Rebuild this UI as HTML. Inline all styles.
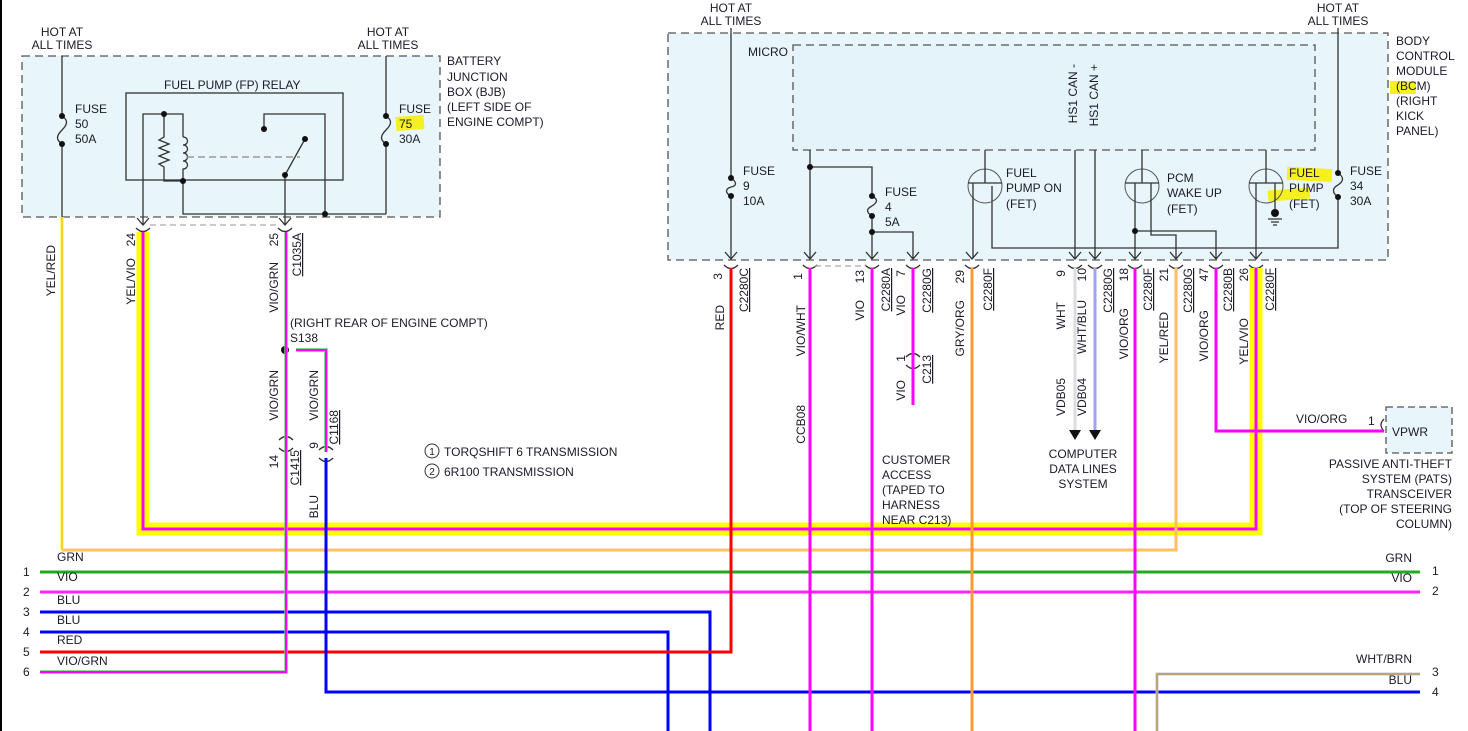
<!DOCTYPE html>
<html><head><meta charset="utf-8"><style>
html,body{margin:0;padding:0;background:#fff;}
svg{display:block;font-family:"Liberation Sans",sans-serif;font-size:12px;}
text{fill:#1a1a2a;}
</style></head><body>
<svg width="1468" height="731" viewBox="0 0 1468 731" xmlns="http://www.w3.org/2000/svg">
<rect x="0" y="0" width="2" height="731" fill="#000"/>
<rect x="22" y="56" width="418" height="161" fill="#e8f5fb" stroke="#555" stroke-dasharray="8,5" stroke-width="1.3"/>
<rect x="668" y="33" width="720" height="227" fill="#e8f5fb" stroke="#555" stroke-dasharray="8,5" stroke-width="1.3"/>
<rect x="793" y="45" width="522" height="105" fill="#e4f2fa" stroke="#555" stroke-dasharray="8,5" stroke-width="1.3"/>
<rect x="1386" y="407" width="66" height="46" fill="#e8f5fb" stroke="#555" stroke-dasharray="7,4" stroke-width="1.3"/>

<rect x="396" y="116" width="28" height="14" fill="#f6f020" transform="rotate(-4 410 123)"/>
<rect x="1390" y="81" width="26" height="13" fill="#f6f020"/>
<rect x="1287" y="168" width="45" height="13" fill="#f6f020" transform="rotate(3 1310 174)"/>
<rect x="1268" y="189" width="42" height="11" fill="#f6f020" transform="rotate(-4 1290 194)"/>

<g fill="none" stroke="#333" stroke-width="1.3">
<path d="M62 56 V116 M62 144 V217"/>
<path d="M62 116 c6 4 6 8 0 14 c-6 6 -6 10 0 14"/>
<path d="M386 56 V116 M386 144 V214"/>
<path d="M386 116 c6 4 6 8 0 14 c-6 6 -6 10 0 14"/>
<rect x="126" y="93" width="217" height="87"/>
<path d="M143 225 V114 H183 V137"/>
<path d="M164 114 V137 l-5 3 l10 4 l-10 4 l10 4 l-10 4 l10 4 l-10 4 l5 3 V181 H183"/>
<path d="M183 137 c6 0 6 8 0 8 c6 0 6 8 0 8 c6 0 6 8 0 8 c6 0 6 8 0 8 V214 H386"/>
<path d="M187 157 H300" stroke="#888" stroke-dasharray="7,4"/>
<path d="M325 214 V114 H264 V129"/>
<path d="M305 139 L285 175 V225"/>
<path d="M137 218 l6 7 l6 -7 M279 218 l6 7 l6 -7"/>
<path d="M150 225 H280" stroke="#aaa" stroke-dasharray="6,4"/>
<path d="M731 28 V178 M731 196 V258"/>
<path d="M731 178 c6 4 6 8 0 9 c-6 2 -6 6 0 9"/>
<path d="M1338 28 V173 M1338 197 V248 H992 V186"/>
<path d="M1338 173 c6 4 6 8 0 12 c-6 3 -6 8 0 12"/>
<path d="M810 150 V258 M810 167 H872 V196 M872 216 V258 M872 232 H913 V258"/>
<path d="M872 196 c6 3 6 6 0 10 c-6 3 -6 6 0 10"/>
<circle cx="985" cy="186" r="17" stroke="#555" stroke-width="1"/>
<path d="M985 150 V183 M968 183 H1002 M973 183 V258"/>
<path d="M1075 150 V258 M1095 150 V258"/>
<circle cx="1142" cy="186" r="17" stroke="#555" stroke-width="1"/>
<path d="M1142 150 V183 M1125 183 H1159 M1135 183 V258 M1151 183 V235 H1176 V258 M1135 231 H1216 V258"/>
<circle cx="1266" cy="186" r="17" stroke="#555" stroke-width="1"/>
<path d="M1266 150 V183 M1249 183 H1283 M1256 183 V258 M1275 183 V210"/>
<path d="M1268 219 H1282 M1271 222 H1279 M1273 225 H1277"/>
<path d="M725 252 l6 7 l6 -7 M804 252 l6 7 l6 -7 M866 252 l6 7 l6 -7 M907 252 l6 7 l6 -7 M966 252 l6 7 l6 -7 M1069 252 l6 7 l6 -7 M1089 252 l6 7 l6 -7 M1129 252 l6 7 l6 -7 M1170 252 l6 7 l6 -7 M1210 252 l6 7 l6 -7 M1250 252 l6 7 l6 -7"/>
<path d="M724 265 q7 7 14 0 M803 265 q7 7 14 0 M865 265 q7 7 14 0 M906 265 q7 7 14 0 M965 265 q7 7 14 0 M1068 265 q7 7 14 0 M1088 265 q7 7 14 0 M1128 265 q7 7 14 0 M1169 265 q7 7 14 0 M1209 265 q7 7 14 0 M1249 265 q7 7 14 0 M136 228 q7 7 14 0 M278 228 q7 7 14 0"/>
<path d="M815 266 H866" stroke="#aaa" stroke-dasharray="6,4"/>
<path d="M906 357 q7 -7 14 0 M906 365 q7 7 14 0 M279 440 q7 -7 14 0 M279 448 q7 7 14 0 M319 450 q7 -7 14 0 M319 458 q7 7 14 0"/>
<path d="M1384 419 q-6 6 0 12" />
</g>
<g fill="#111">
<circle cx="62" cy="116" r="3"/><circle cx="62" cy="144" r="3"/>
<circle cx="386" cy="116" r="3"/><circle cx="386" cy="144" r="3"/>
<circle cx="164" cy="114" r="3"/><circle cx="183" cy="181" r="3"/><circle cx="325" cy="214" r="3"/>
<circle cx="264" cy="129" r="3"/><circle cx="305" cy="139" r="3"/><circle cx="285" cy="175" r="3"/>
<circle cx="731" cy="178" r="3"/><circle cx="731" cy="196" r="3"/>
<circle cx="1338" cy="173" r="3"/><circle cx="1338" cy="197" r="3"/>
<circle cx="810" cy="167" r="3"/><circle cx="872" cy="196" r="3"/><circle cx="872" cy="216" r="3"/><circle cx="872" cy="232" r="3"/>
<circle cx="1135" cy="231" r="3"/><circle cx="1275" cy="213" r="4"/>
<circle cx="285" cy="350" r="4"/>
<path d="M1069 430 h12 l-6 10 z M1089 430 h12 l-6 10 z"/>
</g>

<g fill="none" stroke-linejoin="miter">
<path d="M143 232 V529 H1256 V268" stroke="#ffff00" stroke-width="13"/>
<path d="M143 232 V529 H1256 V268" stroke="#ff00ff" stroke-width="3"/>
<path d="M62 550 H1176 V268" stroke="#ffb080" stroke-width="3"/>
<path d="M62 550 H1176 V268" stroke="#ffcc44" stroke-width="1.2"/>
<path d="M62 217 V550" stroke="#ffff00" stroke-width="3"/>
<path d="M62 217 V550" stroke="#ff8080" stroke-width="0.8"/>
<path d="M40 572 H1420" stroke="#22aa22" stroke-width="3"/>
<path d="M40 592 H1420" stroke="#ff22ff" stroke-width="3"/>
<path d="M40 612 H710 V731" stroke="#0000ff" stroke-width="3"/>
<path d="M40 632 H668 V731" stroke="#0000ff" stroke-width="3"/>
<path d="M40 652 H731 V268" stroke="#ff0000" stroke-width="3"/>
<path d="M40 672 H286 V232" stroke="#77cc77" stroke-width="3.5"/>
<path d="M40 672 H286 V232" stroke="#ff00ff" stroke-width="2"/>
<path d="M296 350 H326 V452" stroke="#66cc66" stroke-width="3.5"/>
<path d="M296 350 H326 V452" stroke="#ff00ff" stroke-width="2"/>
<path d="M326 458 V692 H1420" stroke="#0000ff" stroke-width="3"/>
<path d="M1157 731 V674 H1420" stroke="#c8c8c8" stroke-width="3"/>
<path d="M1157 731 V674 H1420" stroke="#b09050" stroke-width="1.3"/>
<path d="M810 268 V731" stroke="#ff00ff" stroke-width="3"/>
<path d="M872 268 V731" stroke="#ff00ff" stroke-width="3"/>
<path d="M913 268 V405" stroke="#ff00ff" stroke-width="3"/>
<path d="M972 268 V731" stroke="#ff9933" stroke-width="3"/>
<path d="M1075 268 V430" stroke="#dddddd" stroke-width="3"/>
<path d="M1095 268 V430" stroke="#a0a0ff" stroke-width="3"/>
<path d="M1135 268 V731" stroke="#ff00ff" stroke-width="3"/>
<path d="M1216 268 V431 H1384" stroke="#ff00ff" stroke-width="3"/>
</g>

<g>
<text x="62" y="36" text-anchor="middle">HOT AT</text><text x="62" y="49" text-anchor="middle">ALL TIMES</text>
<text x="388" y="36" text-anchor="middle">HOT AT</text><text x="388" y="49" text-anchor="middle">ALL TIMES</text>
<text x="731" y="12" text-anchor="middle">HOT AT</text><text x="731" y="25" text-anchor="middle">ALL TIMES</text>
<text x="1338" y="12" text-anchor="middle">HOT AT</text><text x="1338" y="25" text-anchor="middle">ALL TIMES</text>
<text x="164" y="89">FUEL PUMP (FP) RELAY</text>
<text x="75" y="113">FUSE</text><text x="75" y="128">50</text><text x="75" y="143">50A</text>
<text x="399" y="113">FUSE</text><text x="399" y="128">75</text><text x="399" y="143">30A</text>
<text x="447" y="65">BATTERY</text><text x="447" y="81">JUNCTION</text><text x="447" y="96">BOX (BJB)</text><text x="447" y="111">(LEFT SIDE OF</text><text x="447" y="126">ENGINE COMPT)</text>
<text x="748" y="56">MICRO</text>
<text x="743" y="175">FUSE</text><text x="743" y="190">9</text><text x="743" y="205">10A</text>
<text x="885" y="196">FUSE</text><text x="885" y="211">4</text><text x="885" y="226">5A</text>
<text x="1006" y="177">FUEL</text><text x="1006" y="192">PUMP ON</text><text x="1006" y="208">(FET)</text>
<text x="1167" y="182">PCM</text><text x="1167" y="197">WAKE UP</text><text x="1167" y="213">(FET)</text>
<text x="1289" y="177">FUEL</text><text x="1289" y="192">PUMP</text><text x="1289" y="208">(FET)</text>
<text x="1350" y="175">FUSE</text><text x="1350" y="190">34</text><text x="1350" y="205">30A</text>
<text x="1396" y="45">BODY</text><text x="1396" y="60">CONTROL</text><text x="1396" y="75">MODULE</text><text x="1396" y="90">(BCM)</text><text x="1396" y="105">(RIGHT</text><text x="1396" y="120">KICK</text><text x="1396" y="135">PANEL)</text>
<text x="290" y="327">(RIGHT REAR OF ENGINE COMPT)</text><text x="290" y="342">S138</text>
<circle cx="432" cy="451" r="7" fill="none" stroke="#333"/><text x="432" y="455" text-anchor="middle" font-size="10">1</text>
<circle cx="432" cy="471" r="7" fill="none" stroke="#333"/><text x="432" y="475" text-anchor="middle" font-size="10">2</text>
<text x="444" y="456">TORQSHIFT 6 TRANSMISSION</text><text x="444" y="476">6R100 TRANSMISSION</text>
<text x="882" y="464">CUSTOMER</text><text x="882" y="479">ACCESS</text><text x="882" y="494">(TAPED TO</text><text x="882" y="509">HARNESS</text><text x="882" y="524">NEAR C213)</text>
<text x="1083" y="458" text-anchor="middle">COMPUTER</text><text x="1083" y="473" text-anchor="middle">DATA LINES</text><text x="1083" y="488" text-anchor="middle">SYSTEM</text>
<text x="1392" y="436">VPWR</text><text x="1368" y="425">1</text><text x="1296" y="423">VIO/ORG</text>
<text x="1452" y="468" text-anchor="end">PASSIVE ANTI-THEFT</text><text x="1452" y="483" text-anchor="end">SYSTEM (PATS)</text><text x="1452" y="498" text-anchor="end">TRANSCEIVER</text><text x="1452" y="513" text-anchor="end">(TOP OF STEERING</text><text x="1452" y="528" text-anchor="end">COLUMN)</text>
<text x="57" y="561">GRN</text><text x="57" y="581">VIO</text><text x="57" y="604">BLU</text><text x="57" y="624">BLU</text><text x="57" y="644">RED</text><text x="57" y="665">VIO/GRN</text>
<text x="23" y="576">1</text><text x="23" y="596">2</text><text x="23" y="616">3</text><text x="23" y="636">4</text><text x="23" y="656">5</text><text x="23" y="676">6</text>
<text x="1412" y="562" text-anchor="end">GRN</text><text x="1412" y="582" text-anchor="end">VIO</text><text x="1412" y="663" text-anchor="end">WHT/BRN</text><text x="1412" y="684" text-anchor="end">BLU</text>
<text x="1432" y="575">1</text><text x="1432" y="595">2</text><text x="1432" y="676">3</text><text x="1432" y="696">4</text>
</g>
<g text-anchor="end">
<text transform="translate(55,245) rotate(-90)">YEL/RED</text>
<text transform="translate(135,233) rotate(-90)">24</text>
<text transform="translate(135,258) rotate(-90)">YEL/VIO</text>
<text transform="translate(278,233) rotate(-90)">25</text>
<text transform="translate(278,262) rotate(-90)">VIO/GRN</text>
<text transform="translate(301,233) rotate(-90)" text-decoration="underline">C1035A</text>
<text transform="translate(278,370) rotate(-90)">VIO/GRN</text>
<text transform="translate(278,455) rotate(-90)">14</text>
<text transform="translate(299,450) rotate(-90)" text-decoration="underline">C1415</text>
<text transform="translate(318,370) rotate(-90)">VIO/GRN</text>
<text transform="translate(318,442) rotate(-90)">9</text>
<text transform="translate(338,410) rotate(-90)" text-decoration="underline">C1168</text>
<text transform="translate(318,495) rotate(-90)">BLU</text>
<text transform="translate(722,273) rotate(-90)">3</text>
<text transform="translate(724,305) rotate(-90)">RED</text>
<text transform="translate(748,268) rotate(-90)" text-decoration="underline">C2280C</text>
<text transform="translate(802,273) rotate(-90)">1</text>
<text transform="translate(805,305) rotate(-90)">VIO/WHT</text>
<text transform="translate(805,405) rotate(-90)">CCB08</text>
<text transform="translate(864,270) rotate(-90)">13</text>
<text transform="translate(864,300) rotate(-90)">VIO</text>
<text transform="translate(890,268) rotate(-90)" text-decoration="underline">C2280A</text>
<text transform="translate(905,270) rotate(-90)">7</text>
<text transform="translate(905,295) rotate(-90)">VIO</text>
<text transform="translate(931,268) rotate(-90)" text-decoration="underline">C2280G</text>
<text transform="translate(905,355) rotate(-90)">1</text>
<text transform="translate(931,355) rotate(-90)" text-decoration="underline">C213</text>
<text transform="translate(905,380) rotate(-90)">VIO</text>
<text transform="translate(964,270) rotate(-90)">29</text>
<text transform="translate(964,300) rotate(-90)">GRY/ORG</text>
<text transform="translate(992,268) rotate(-90)" text-decoration="underline">C2280F</text>
<text transform="translate(1065,270) rotate(-90)">9</text>
<text transform="translate(1065,302) rotate(-90)">WHT</text>
<text transform="translate(1086,268) rotate(-90)">10</text>
<text transform="translate(1086,300) rotate(-90)">WHT/BLU</text>
<text transform="translate(1112,268) rotate(-90)" text-decoration="underline">C2280G</text>
<text transform="translate(1128,268) rotate(-90)">18</text>
<text transform="translate(1128,308) rotate(-90)">VIO/ORG</text>
<text transform="translate(1152,268) rotate(-90)" text-decoration="underline">C2280F</text>
<text transform="translate(1168,268) rotate(-90)">21</text>
<text transform="translate(1168,312) rotate(-90)">YEL/RED</text>
<text transform="translate(1192,268) rotate(-90)" text-decoration="underline">C2280G</text>
<text transform="translate(1208,268) rotate(-90)">47</text>
<text transform="translate(1208,310) rotate(-90)">VIO/ORG</text>
<text transform="translate(1232,268) rotate(-90)" text-decoration="underline">C2280B</text>
<text transform="translate(1248,268) rotate(-90)">26</text>
<text transform="translate(1248,318) rotate(-90)">YEL/VIO</text>
<text transform="translate(1274,268) rotate(-90)" text-decoration="underline">C2280F</text>
<text transform="translate(1065,378) rotate(-90)">VDB05</text>
<text transform="translate(1086,378) rotate(-90)">VDB04</text>
<text transform="translate(1077,64) rotate(-90)">HS1 CAN -</text>
<text transform="translate(1098,64) rotate(-90)">HS1 CAN +</text>
</g>
</svg>
</body></html>
